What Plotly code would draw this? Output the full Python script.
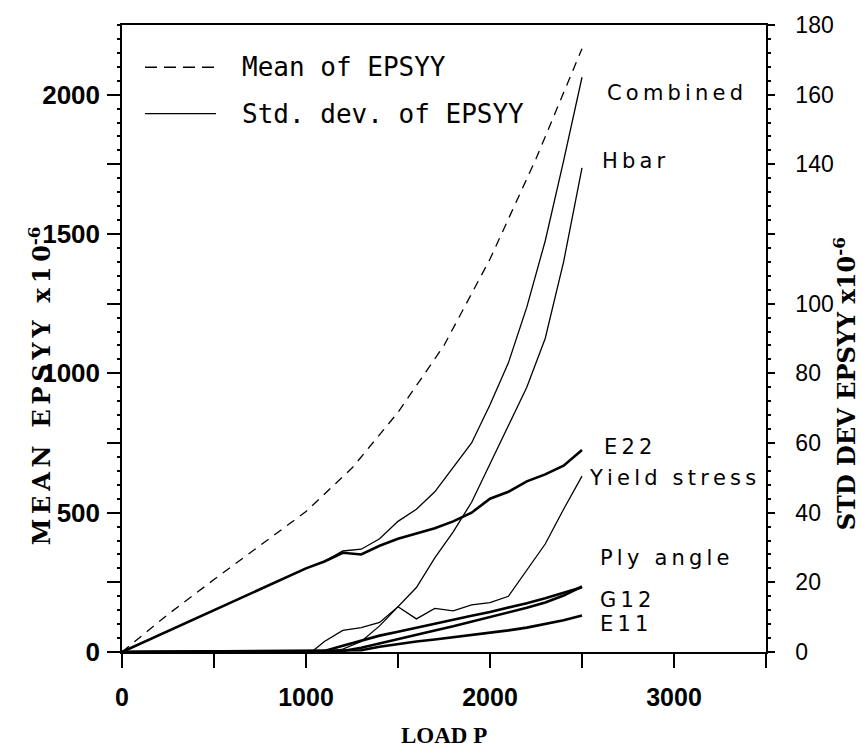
import plotly.graph_objects as go

# ---------------- data ----------------
load_mean = [0, 250, 500, 750, 1000, 1250, 1500, 1750, 2000, 2250, 2400, 2500]
mean_epsyy = [0, 135, 260, 383, 504, 660, 860, 1100, 1410, 1770, 2010, 2165]

load_e22 = [0, 1000, 1100, 1200, 1300, 1400, 1500, 1600, 1700, 1800, 1900, 2000, 2100, 2200, 2300, 2400, 2500]
std_e22 = [0, 24, 26, 28.5, 28, 30.5, 32.5, 34, 35.5, 37.5, 40, 44, 46, 49, 51, 53.5, 58]

load_comb = [0, 1000, 1100, 1200, 1300, 1400, 1500, 1600, 1700, 1800, 1900, 2000, 2100, 2200, 2300, 2400, 2500]
std_comb = [0, 24, 26, 29, 29.5, 32.5, 37.5, 41, 46, 53, 60, 71, 83, 99, 118, 141, 165]

load_hbar = [0, 1100, 1200, 1300, 1400, 1500, 1600, 1700, 1800, 1900, 2000, 2100, 2200, 2300, 2400, 2500]
std_hbar = [0, 0, 0.8, 3, 7.5, 13, 18.5, 27, 34.5, 43, 54, 65, 76, 90, 112, 139]

load_yield = [0, 1030, 1100, 1200, 1300, 1400, 1500, 1600, 1700, 1800, 1900, 2000, 2100, 2200, 2300, 2400, 2500]
std_yield = [0, 0, 3, 6.2, 7, 8.5, 13, 9.5, 12.5, 11.8, 13.5, 14.2, 16, 23.5, 31, 41, 50.5]

load_ply = [0, 1100, 1200, 1300, 1400, 1500, 1600, 1700, 1800, 1900, 2000, 2100, 2200, 2300, 2400, 2500]
std_ply = [0, 0.3, 1.8, 3.3, 4.7, 5.8, 7, 8.1, 9.2, 10.4, 11.5, 12.7, 14, 15.4, 16.9, 18.6]

load_g12 = [0, 1200, 1300, 1400, 1500, 1600, 1700, 1800, 1900, 2000, 2100, 2200, 2300, 2400, 2500]
std_g12 = [0, 0.3, 1.2, 2.5, 3.7, 5, 6.2, 7.4, 8.7, 10, 11.4, 12.7, 14.2, 16.2, 18.8]

load_e11 = [0, 1300, 1400, 1500, 1600, 1700, 1800, 1900, 2000, 2100, 2200, 2300, 2400, 2500]
std_e11 = [0, 0.5, 1.5, 2.3, 3, 3.6, 4.2, 4.9, 5.6, 6.2, 7, 8, 9.1, 10.5]

x_ticks = [0, 500, 1000, 1500, 2000, 2500, 3000, 3500]
x_ticktext = ["0", "", "1000", "", "2000", "", "3000", ""]
y_ticks = [0, 250, 500, 750, 1000, 1250, 1500, 1750, 2000]
y_ticktext = ["0", "", "500", "", "1000", "", "1500", "", "2000"]
y2_ticks = [0, 20, 40, 60, 80, 100, 120, 140, 160, 180]
y2_ticktext = ["0", "20", "40", "60", "80", "100", "", "140", "160", "180"]

curve_labels = ["Combined", "Hbar", "E22", "Yield stress", "Ply angle", "G12", "E11"]

# ---------------- figure ----------------
fig = go.Figure()
fig.add_trace(go.Scatter(x=load_mean, y=mean_epsyy, mode="lines",
                         line=dict(color="black", width=1.3, dash="9px,7px"), yaxis="y"))
thin = dict(color="black", width=1.3)
thick = dict(color="black", width=2.6)
fig.add_trace(go.Scatter(x=load_comb, y=std_comb, mode="lines", line=thin, yaxis="y2"))
fig.add_trace(go.Scatter(x=load_hbar, y=std_hbar, mode="lines", line=thin, yaxis="y2"))
fig.add_trace(go.Scatter(x=load_yield, y=std_yield, mode="lines", line=thin, yaxis="y2"))
fig.add_trace(go.Scatter(x=load_e22, y=std_e22, mode="lines", line=thick, yaxis="y2"))
fig.add_trace(go.Scatter(x=load_ply, y=std_ply, mode="lines", line=thick, yaxis="y2"))
fig.add_trace(go.Scatter(x=load_g12, y=std_g12, mode="lines", line=thick, yaxis="y2"))
fig.add_trace(go.Scatter(x=load_e11, y=std_e11, mode="lines", line=thick, yaxis="y2"))

L, R, T, B = 122, 95, 15, 99
W, H = 861, 751
pw, ph = W - L - R, H - T - B


def px(xp):
    return (xp - L) / pw


def py(yp):
    return (H - B - yp) / ph


fig.update_layout(
    width=W, height=H,
    margin=dict(l=L, r=R, t=T, b=B),
    paper_bgcolor="white", plot_bgcolor="white",
    showlegend=False,
    xaxis=dict(range=[0, 3500], tickvals=x_ticks, ticktext=x_ticktext,
               showgrid=False, zeroline=False, showline=True, linecolor="black", linewidth=1.5,
               mirror=True, ticks="outside", ticklen=14, tickwidth=1.5, tickcolor="black",
               ticklabelstandoff=8,
               tickfont=dict(family="Liberation Sans, Arial, sans-serif", size=25, color="black", weight="bold")),
    yaxis=dict(range=[0, 2250], tickvals=y_ticks, ticktext=y_ticktext,
               showgrid=False, zeroline=False, showline=True, linecolor="black", linewidth=1.5,
               ticks="outside", ticklen=13, tickwidth=1.5, tickcolor="black",
               minor=dict(dtick=50, ticks="outside", ticklen=3, tickcolor="black"),
               ticklabelstandoff=2,
               tickfont=dict(family="Liberation Sans, Arial, sans-serif", size=26, color="black", weight="bold")),
    yaxis2=dict(range=[0, 180], overlaying="y", side="right", tickvals=y2_ticks, ticktext=y2_ticktext,
                showgrid=False, zeroline=False, showline=True, linecolor="black", linewidth=1.5,
                ticks="outside", ticklen=7, tickwidth=1.5, tickcolor="black",
                minor=dict(dtick=4, ticks="outside", ticklen=3, tickcolor="black"),
                ticklabelstandoff=16,
                tickfont=dict(family="Liberation Sans, Arial, sans-serif", size=23, color="black")),
)

# legend (drawn manually)
fig.add_shape(type="line", xref="paper", yref="paper", x0=px(145), x1=px(216), y0=py(58), y1=py(58),
              line=dict(color="black", width=1.4, dash="12px,7px"))
fig.add_shape(type="line", xref="paper", yref="paper", x0=px(145), x1=px(216), y0=py(105), y1=py(105),
              line=dict(color="black", width=1.4))
legend_font = dict(family="DejaVu Sans Mono, Liberation Mono, monospace", size=26, color="black")
fig.add_annotation(x=px(240), y=py(58), xref="paper", yref="paper", text="Mean of EPSYY",
                   showarrow=False, xanchor="left", yanchor="middle", font=legend_font)
fig.add_annotation(x=px(240), y=py(105), xref="paper", yref="paper", text="Std. dev. of EPSYY",
                   showarrow=False, xanchor="left", yanchor="middle", font=legend_font)

# curve labels
label_pos = [(605, 84), (600, 153), (602, 444), (587, 475), (598, 556), (598, 599), (598, 624)]
label_font = dict(family="DejaVu Sans, Verdana, sans-serif", size=21, color="black")
for txt, (lx, ly) in zip(curve_labels, label_pos):
    spaced = "\u2009".join(list(txt))
    fig.add_annotation(x=px(lx), y=py(ly), xref="paper", yref="paper", text=spaced,
                       showarrow=False, xanchor="left", yanchor="middle", font=label_font)

# axis titles
title_font = dict(family="DejaVu Serif, Liberation Serif, serif", size=24, color="black", weight="bold")
left_title = "\u2009".join(list("MEAN EPSYY x10")) + "<sup>-6</sup>"
fig.add_annotation(x=px(40), y=py(382), xref="paper", yref="paper", text=left_title,
                   textangle=-90, showarrow=False, xanchor="center", yanchor="middle", font=title_font)
fig.add_annotation(x=px(845), y=py(380), xref="paper", yref="paper", text="STD DEV EPSYY x10<sup>-6</sup>",
                   textangle=-90, showarrow=False, xanchor="center", yanchor="middle", font=title_font)
fig.add_annotation(x=px(444), y=py(737), xref="paper", yref="paper", text="LOAD P",
                   showarrow=False, xanchor="center", yanchor="middle",
                   font=dict(family="Liberation Serif, Times New Roman, serif", size=23, color="black", weight="bold"))

fig.write_html("out.html")
